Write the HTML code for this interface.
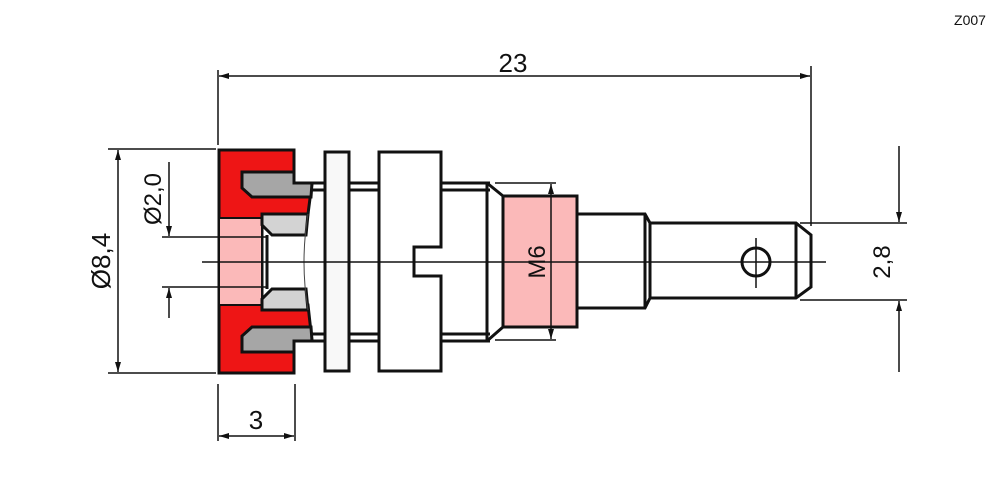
<!DOCTYPE html>
<html><head><meta charset="utf-8"><style>
html,body{margin:0;padding:0;background:#fff;}
svg{display:block;font-family:"Liberation Sans",Arial,sans-serif;}
</style></head><body>
<svg width="1006" height="477" viewBox="0 0 1006 477" xmlns="http://www.w3.org/2000/svg">
<defs>
<marker id="a" viewBox="0 0 10 6" refX="10" refY="3" markerWidth="10" markerHeight="6" orient="auto-start-reverse" markerUnits="userSpaceOnUse"><path d="M0,0 L10,3 L0,6 z" fill="#111"/></marker>
</defs>
<text x="970" y="25" font-size="14" text-anchor="middle" fill="#111">Z007</text>

<!-- thread lines -->
<g stroke="#111" stroke-width="3" fill="none">
<line x1="294" y1="183" x2="490" y2="183"/><line x1="310" y1="190" x2="490" y2="190"/>
<line x1="294" y1="341" x2="490" y2="341"/><line x1="310" y1="334" x2="490" y2="334"/>
</g>
<!-- red head -->
<path d="M219,150 H294 V183 H312 L308,214 H262 V305 H308 L312,341 H294 V373 H219 Z" fill="#ee1515" stroke="#111" stroke-width="3"/>
<rect x="219" y="218" width="43" height="87" fill="#fbb9b9" stroke="#111" stroke-width="2"/>
<!-- grey parts -->
<g stroke="#111" stroke-width="3">
<path d="M242,172 H294 V183 H312 L311,197 H252 L242,188 Z" fill="#a6a6a6"/>
<path d="M242,352 H294 V341 H312 L311,327 H252 L242,336 Z" fill="#a6a6a6"/>
<path d="M262,214 H308 L306,235 H272 L262,225 Z" fill="#d3d3d3"/>
<path d="M262,310 H308 L306,289 H272 L262,299 Z" fill="#d3d3d3"/>
</g>
<line x1="267" y1="235" x2="267" y2="289" stroke="#111" stroke-width="3"/>
<path d="M308,214 Q300,262 308,310" stroke="#444" stroke-width="1" fill="none"/>
<!-- washer and nut -->
<g stroke="#111" stroke-width="3" fill="#fff">
<rect x="325" y="152" width="24" height="219" fill="#f8f8f8"/>
<path d="M379,152 H441 V247 H414 V276 H441 V371 H379 Z"/>
</g>
<!-- body -->
<g stroke="#111" stroke-width="3" fill="none">
<line x1="441" y1="183" x2="487" y2="183"/><line x1="441" y1="341" x2="487" y2="341"/>
<line x1="487" y1="183" x2="487" y2="341"/>
<path d="M487,183 L503,196 M487,341 L503,327"/>
<rect x="503" y="196" width="74" height="131" fill="#fbb9b9"/>
<path d="M577,214 H645 L650,223 V298 L645,308 H577"/>
<line x1="645" y1="214" x2="645" y2="308"/>
<path d="M650,223 H796 L811,235 V287 L796,298 H650"/>
<line x1="796" y1="223" x2="796" y2="298"/>
<circle cx="756" cy="262" r="14"/>
</g>
<g stroke="#111" stroke-width="1.5">
<line x1="756" y1="238" x2="756" y2="288"/>
<line x1="202" y1="262" x2="826" y2="262"/>
</g>
<!-- M6 -->
<g stroke="#111" stroke-width="1.5">
<line x1="495" y1="183" x2="556" y2="183"/><line x1="495" y1="340" x2="556" y2="340"/>
<line x1="551" y1="184" x2="551" y2="339" marker-start="url(#a)" marker-end="url(#a)"/>
</g>
<text transform="translate(545,262) rotate(-90)" font-size="24" text-anchor="middle" fill="#111">M6</text>
<!-- dimensions -->
<g stroke="#111" stroke-width="1.5" fill="none">
<line x1="218" y1="70" x2="218" y2="145"/><line x1="811" y1="66" x2="811" y2="226"/>
<line x1="219" y1="76" x2="810" y2="76" marker-start="url(#a)" marker-end="url(#a)"/>
<line x1="108" y1="149" x2="216" y2="149"/><line x1="108" y1="373" x2="216" y2="373"/>
<line x1="118" y1="150" x2="118" y2="372" marker-start="url(#a)" marker-end="url(#a)"/>
<line x1="162" y1="237" x2="266" y2="237"/><line x1="162" y1="287" x2="266" y2="287"/>
<line x1="169" y1="162" x2="169" y2="236" marker-end="url(#a)"/>
<line x1="169" y1="318" x2="169" y2="288" marker-end="url(#a)"/>
<line x1="218" y1="384" x2="218" y2="441"/><line x1="295" y1="384" x2="295" y2="441"/>
<line x1="219" y1="436" x2="294" y2="436" marker-start="url(#a)" marker-end="url(#a)"/>
<line x1="800" y1="223" x2="907" y2="223"/><line x1="800" y1="300" x2="907" y2="300"/>
<line x1="899" y1="146" x2="899" y2="222" marker-end="url(#a)"/>
<line x1="899" y1="372" x2="899" y2="301" marker-end="url(#a)"/>
</g>
<text x="513" y="72" font-size="26" text-anchor="middle" fill="#111">23</text>
<text x="256" y="429" font-size="26" text-anchor="middle" fill="#111">3</text>
<text transform="translate(110,261) rotate(-90)" font-size="26" text-anchor="middle" fill="#111">Ø8,4</text>
<text transform="translate(161,199) rotate(-90)" font-size="24" text-anchor="middle" fill="#111">Ø2,0</text>
<text transform="translate(890,262) rotate(-90)" font-size="24" text-anchor="middle" fill="#111">2,8</text>
</svg>
</body></html>
